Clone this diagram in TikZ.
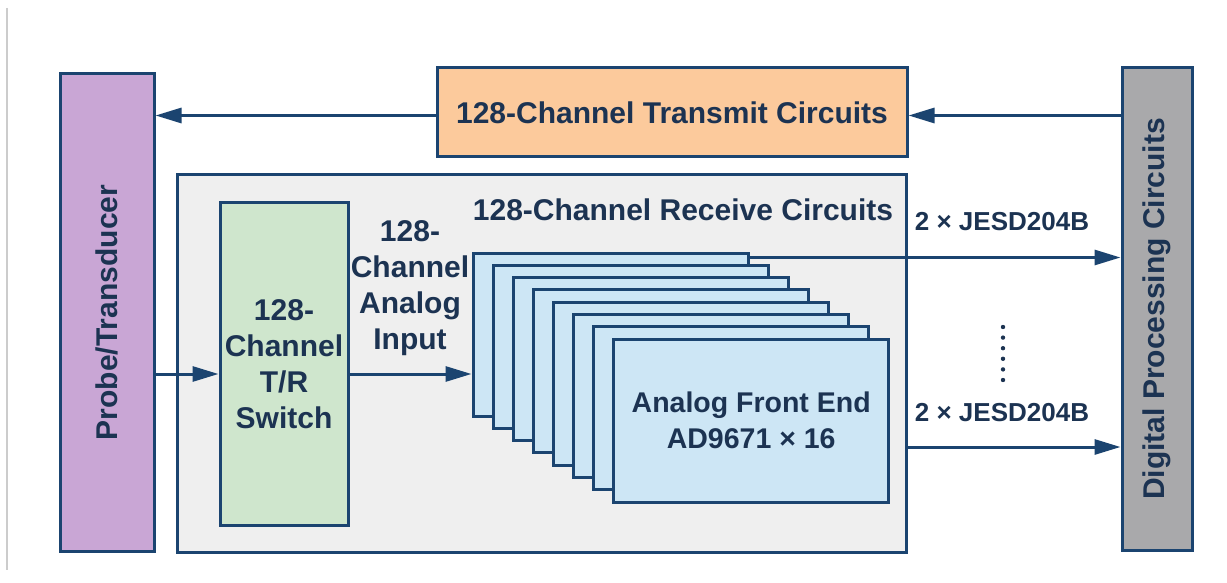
\documentclass[tikz,border=0pt]{standalone}
\usepackage{fontspec}
\setmainfont{Liberation Sans}
\usetikzlibrary{arrows.meta,calc}
\definecolor{navy}{HTML}{1B4470}
\definecolor{ink}{HTML}{1C3352}
\definecolor{probefill}{HTML}{C9A6D5}
\definecolor{txfill}{HTML}{FCCA9C}
\definecolor{digfill}{HTML}{A9A9AB}
\definecolor{rxfill}{HTML}{EFEFEF}
\definecolor{swfill}{HTML}{CFE6CD}
\definecolor{afefill}{HTML}{CDE6F5}
\begin{document}
\begin{tikzpicture}[x=1pt,y=-1pt,
  blk/.style={draw=navy,line width=3pt,inner sep=0pt,text=ink,align=center,
    font=\bfseries\fontsize{30}{36}\selectfont},
  lbl/.style={text=ink,align=center,inner sep=0pt,
    font=\bfseries\fontsize{30}{36}\selectfont},
  small/.style={text=ink,inner sep=0pt,font=\bfseries\fontsize{26}{30}\selectfont},
  conn/.style={draw=navy,line width=3pt,-{Triangle[length=26pt,width=15pt]}}]
\useasboundingbox (0,0) rectangle (1227,583);
\fill[white] (0,0) rectangle (1227,583);
% thin rule along the left margin
\draw[black!20,line width=2pt] (7,8) -- (7,570);

% outer blocks
\node[blk,fill=probefill,minimum width=94pt,minimum height=477pt] (probe) at (107,312.5)
  {\rotatebox{90}{Probe/Transducer}};
\node[blk,fill=txfill,minimum width=470pt,minimum height=89pt] (tx) at (672,112.5)
  {128-Channel Transmit Circuits};
\node[blk,fill=digfill,minimum width=70pt,minimum height=482pt] (dig) at (1157,309)
  {\rotatebox{90}{Digital Processing Circuits}};

% receive section
\node[blk,fill=rxfill,minimum width=729pt,minimum height=377pt] (rx) at (541.5,363.5) {};
\node[lbl,anchor=center] (rxlbl) at (683,210) {128-Channel Receive Circuits};
\node[blk,fill=swfill,minimum width=128pt,minimum height=322pt] (sw) at (284,364)
  {128-\\Channel\\T/R\\Switch};
\node[lbl] (ain) at (410,288) {128-\\Channel\\Analog\\Input};

% stacked analog front end boards, back to front
\foreach \i in {7,6,...,1}{
  \node[blk,fill=afefill,minimum width=275pt,minimum height=163pt] (afe\i)
    at ({610.5+20.1*(7-\i)},{334.5+12.3*(7-\i)}) {};
}
\node[blk,fill=afefill,minimum width=275pt,minimum height=163pt,
  font=\bfseries\fontsize{28.5}{36}\selectfont] (afe0)
  at ({610.5+20.1*7},{334.5+12.3*7}) {Analog Front End\\AD9671 × 16};

% transmit path
\coordinate (txr) at ($(tx.east)+(0,3)$);
\coordinate (txl) at ($(tx.west)+(0,3)$);
\draw[conn] (dig.west |- txr) -- (txr);
\draw[conn] (txl) -- (probe.east |- txl);

% receive path
\coordinate (rxin) at (0,374);
\draw[conn] (probe.east |- rxin) -- (sw.west |- rxin);
\draw[conn] (sw.east |- rxin) -- (afe7.west |- rxin);

% JESD204B links
\coordinate (j1) at ($(afe7.north east)+(0,6)$);
\coordinate (j2) at (0,447);
\draw[conn] (j1) -- (dig.west |- j1);
\draw[conn] (rx.east |- j2) -- (dig.west |- j2);
\node[small] (jl1) at (1002,222) {2 × JESD204B};
\node[small] (jl2) at (1002,413) {2 × JESD204B};
\foreach \k in {0,...,5}{
  \fill[ink] (1003,{327+10.6*\k}) circle (2.2pt);
}
\end{tikzpicture}
\end{document}
